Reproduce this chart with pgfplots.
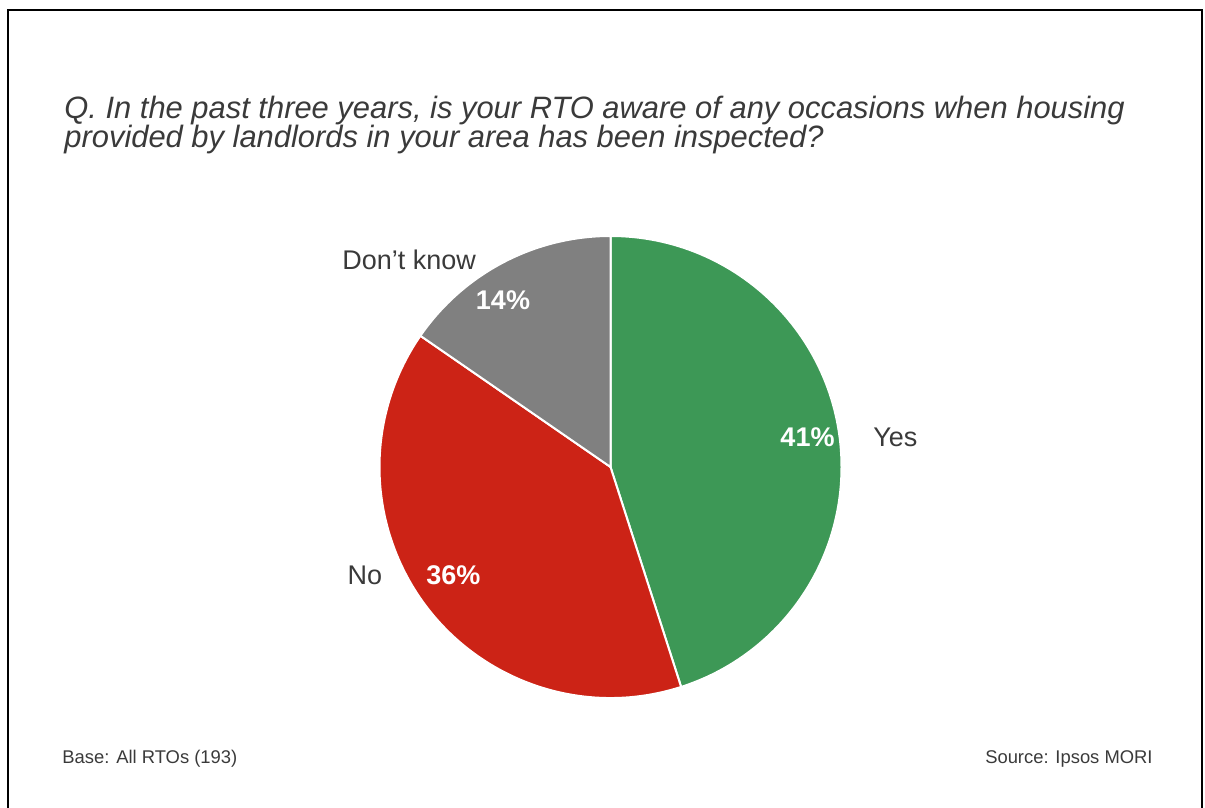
\documentclass[border=0pt]{standalone}
\usepackage{pgfplots}
\pgfplotsset{compat=1.18}
\usepackage{pgfplotstable}
\usepackage{fontspec}
\setmainfont{Liberation Sans}
\definecolor{yesgreen}{HTML}{3D9856}
\definecolor{nored}{HTML}{CC2316}
\definecolor{dkgray}{HTML}{808080}
\definecolor{txt}{HTML}{3A3A3A}

% category  value
\pgfplotstableread{
idx value
0 41
1 36
2 14
}\piedata

\begin{document}
\begin{tikzpicture}[x=0.5pt,y=0.5pt]
\useasboundingbox (0,0) rectangle (1205,808);
\draw[line width=1pt] (8,-2) -- (8,798) -- (1202,798) -- (1202,-2);

\node[anchor=base west,inner sep=0,text=txt,font=\fontsize{15.45pt}{14pt}\selectfont\itshape] at (64,689) {Q. In the past three years, is your RTO aware of any occasions when housing};
\node[anchor=base west,inner sep=0,text=txt,font=\fontsize{15.45pt}{14pt}\selectfont\itshape] at (64,660.5) {provided by landlords in your area has been inspected?};

\node[anchor=base west,inner sep=0,text=txt,font=\fontsize{9.2pt}{11pt}\selectfont] at (62,44) {Base: All RTOs (193)};
\node[anchor=base east,inner sep=0,text=txt,font=\fontsize{9.2pt}{11pt}\selectfont] at (1153,44) {Source: Ipsos MORI};

\pgfplotstablegetelem{0}{value}\of\piedata \edef\vA{\pgfplotsretval}
\pgfplotstablegetelem{1}{value}\of\piedata \edef\vB{\pgfplotsretval}
\pgfplotstablegetelem{2}{value}\of\piedata \edef\vC{\pgfplotsretval}
\pgfmathsetmacro\tot{\vA+\vB+\vC}
\pgfmathsetmacro\aA{90}
\pgfmathsetmacro\aB{\aA-360*\vA/\tot}
\pgfmathsetmacro\aC{\aB-360*\vB/\tot}
\pgfmathsetmacro\aD{\aC-360*\vC/\tot}

\begin{axis}[at={(305.25pt,170.5pt)}, anchor=center, hide axis, scale only axis,
  width=231pt, height=231pt, xmin=-1, xmax=1, ymin=-1, ymax=1, clip=false]
\filldraw[fill=yesgreen,draw=white,line width=1pt] (axis cs:0,0) -- (axis cs:{cos(\aA)},{sin(\aA)}) arc[start angle=\aA,end angle=\aB,radius=115.5pt] -- cycle;
\filldraw[fill=nored,draw=white,line width=1pt] (axis cs:0,0) -- (axis cs:{cos(\aB)},{sin(\aB)}) arc[start angle=\aB,end angle=\aC,radius=115.5pt] -- cycle;
\filldraw[fill=dkgray,draw=white,line width=1pt] (axis cs:0,0) -- (axis cs:{cos(\aC)},{sin(\aC)}) arc[start angle=\aC,end angle=\aD,radius=115.5pt] -- cycle;
\end{axis}

\begin{scope}[every node/.style={inner sep=0}]
\node[anchor=base,text=white,font=\fontsize{13.5pt}{16pt}\selectfont\bfseries] at (807.5,361.3) {\vA\%};
\node[anchor=base,text=white,font=\fontsize{13.5pt}{16pt}\selectfont\bfseries] at (453.3,223) {\vB\%};
\node[anchor=base,text=white,font=\fontsize{13.5pt}{16pt}\selectfont\bfseries] at (503,498) {\vC\%};
\node[anchor=base west,text=txt,font=\fontsize{13.5pt}{16pt}\selectfont] at (873,361.3) {Yes};
\node[anchor=base east,text=txt,font=\fontsize{13.5pt}{16pt}\selectfont] at (382.5,223) {No};
\node[anchor=base west,text=txt,font=\fontsize{13.5pt}{16pt}\selectfont] at (342,538.7) {Don’t know};
\end{scope}
\end{tikzpicture}
\end{document}
